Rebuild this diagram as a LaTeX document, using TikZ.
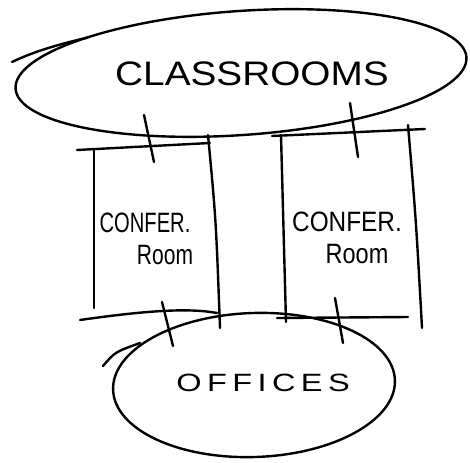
\documentclass[tikz,border=0pt]{standalone}
\usepackage{graphicx}
\usepackage{fontspec}
\setmainfont{Liberation Sans}
\begin{document}
\begin{tikzpicture}[x=1pt,y=-1pt,
  sk/.style={draw=black,line width=2.4pt,line cap=round,line join=round},
  lbl/.style={inner sep=0pt,text=black}]
\useasboundingbox (0,0) rectangle (470,462);
\fill[white] (0,0) rectangle (470,462);

% classrooms blob
\draw[sk,rotate around={4:(241,73)}] (241,73) ellipse [x radius=226, y radius=62];
\draw[sk] (12,62) .. controls (35,51) and (60,44) .. (88,37.5);
\node[lbl] (classrooms) at (252,74) {\fontsize{34}{34}\selectfont\scalebox{1.14}[1]{CLASSROOMS}};

% left conference room
\draw[sk] (77,150) -- (210,143);
\draw[sk] (94,150) -- (94,308);
\draw[sk] (208,135) .. controls (216,220) .. (220,328);
\draw[sk] (80,320) .. controls (150,310) and (190,308) .. (217,313);
\draw[sk] (144,115) -- (154,162);
\draw[sk] (162,302) -- (173,346);
\node[lbl] (conf1) at (145,223) {\fontsize{28}{28}\selectfont\scalebox{0.72}[1]{CONFER.}};
\node[lbl] (room1) at (165,255) {\fontsize{28}{28}\selectfont\scalebox{0.75}[1]{Room}};

% right conference room
\draw[sk] (272,136) -- (425,129);
\draw[sk] (281,135) -- (286,322);
\draw[sk] (408,125) .. controls (416,220) .. (422,328);
\draw[sk] (277,318) -- (408,317);
\draw[sk] (350,103) -- (358,157);
\draw[sk] (335,298) -- (343,343);
\node[lbl] (conf2) at (347,222) {\fontsize{28}{28}\selectfont\scalebox{0.87}[1]{CONFER.}};
\node[lbl] (room2) at (357,254) {\fontsize{28}{28}\selectfont\scalebox{0.84}[1]{Room}};

% offices blob
\draw[sk,rotate around={2:(254,385)}] (254,385) ellipse [x radius=141, y radius=72];
\draw[sk] (103,366) .. controls (115,352) .. (140,343);
\node[lbl] (offices) at (263,383) {\fontsize{25}{25}\selectfont\scalebox{1.3}[1]{O\,F\,F\,I\,C\,E\,S}};
\end{tikzpicture}
\end{document}
